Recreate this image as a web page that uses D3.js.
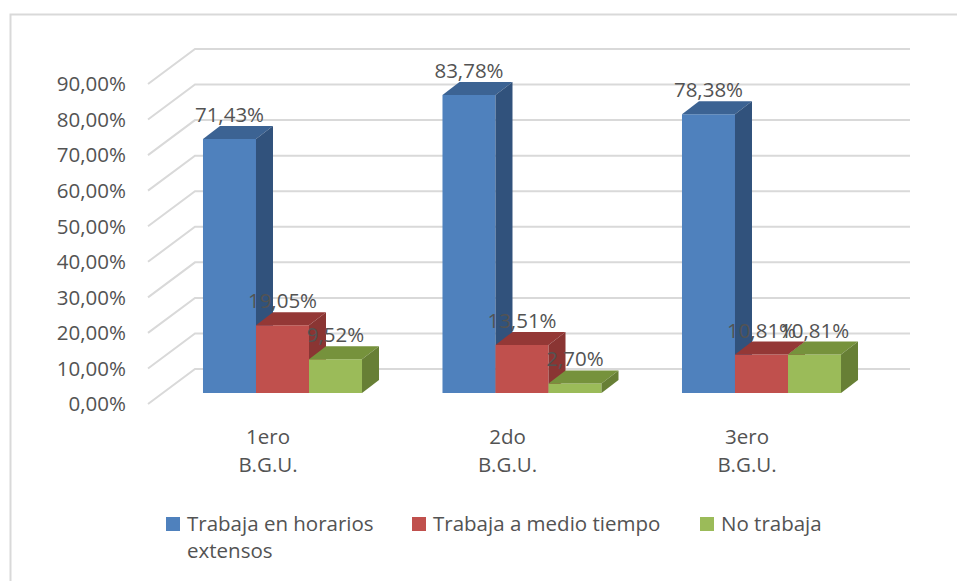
<!DOCTYPE html>
<html>
<head>
<meta charset="utf-8">
<script src="https://cdn.jsdelivr.net/npm/d3@7"></script>
<style>
  body { margin: 0; background: #fff; }
  text { font-family: "Open Sans", sans-serif; fill: #535353; }
</style>
</head>
<body>
<svg width="957" height="581"></svg>
<script>
// chart data
var categories = ["1ero B.G.U.", "2do B.G.U.", "3ero B.G.U."];
var seriesNames = ["Trabaja en horarios extensos", "Trabaja a medio tiempo", "No trabaja"];
var extensos = [71.43, 83.78, 78.38];
var medioTiempo = [19.05, 13.51, 10.81];
var noTrabaja = [9.52, 2.70, 10.81];
var yTicks = [0, 10, 20, 30, 40, 50, 60, 70, 80, 90];

var svg = d3.select("svg");
var fontSize = 20.5;

// colours: front, top, side
var colors = [
  ["#4f81bd", "#3c6393", "#31527c"],
  ["#c0504d", "#943836", "#8a3533"],
  ["#9bbb59", "#76923c", "#677f35"]
];

// 3d offsets
var wallDx = 47, wallDy = -35;
var barDx = 17, barDy = -13;

var h = d3.scaleLinear().domain([0, 90]).range([0, 320]);
var frontBase = 404;   // front edge of the walls
var barBase = 393;     // front face base of bars

var x = d3.scaleBand().domain(categories).range([162.75, 881.25])
  .paddingInner(0.336).paddingOuter(0.168);
var xs = d3.scaleBand().domain(d3.range(3)).range([0, x.bandwidth()]);

var fmt = function (v) { return d3.format(".2f")(v).replace(".", ",") + "%"; };

// chart border
svg.append("rect")
  .attr("x", 10.5).attr("y", 14.5).attr("width", 960).attr("height", 600)
  .attr("fill", "none").attr("stroke", "#d9d9d9").attr("stroke-width", 2);

// gridlines (side + back wall)
var grid = svg.append("g").attr("stroke", "#d9d9d9").attr("stroke-width", 2).attr("fill", "none");
grid.selectAll("path").data(yTicks).enter().append("path")
  .attr("d", function (d) {
    var y0 = frontBase - h(d);
    return "M148," + y0 + "L" + (148 + wallDx) + "," + (y0 + wallDy) + "L910," + (y0 + wallDy);
  });

// y tick labels
svg.append("g").selectAll("text").data(yTicks).enter().append("text")
  .attr("x", 126).attr("y", function (d) { return frontBase - h(d); })
  .attr("dy", "0.36em").attr("text-anchor", "end")
  .style("font-size", fontSize + "px")
  .text(function (d) { return d3.format(".2f")(d).replace(".", ",") + "%"; });

// bars
var rows = [];
categories.forEach(function (c, i) {
  [extensos, medioTiempo, noTrabaja].forEach(function (s, j) {
    rows.push({ cat: c, s: j, v: s[i] });
  });
});

var bars = svg.append("g").selectAll("g").data(rows).enter().append("g");

function poly(pts) { return "M" + pts.map(function (p) { return p.join(","); }).join("L") + "Z"; }

bars.each(function (d) {
  var g = d3.select(this);
  var x0 = x(d.cat) + xs(d.s), x1 = x0 + xs.bandwidth();
  var yT = barBase - h(d.v), yB = barBase;
  var c = colors[d.s];
  g.append("path").attr("fill", c[0])
    .attr("d", poly([[x0, yT], [x1, yT], [x1, yB], [x0, yB]]));
  g.append("path").attr("fill", c[1])
    .attr("d", poly([[x0, yT], [x0 + barDx, yT + barDy], [x1 + barDx, yT + barDy], [x1, yT]]));
  g.append("path").attr("fill", c[2])
    .attr("d", poly([[x1, yT], [x1 + barDx, yT + barDy], [x1 + barDx, yB + barDy], [x1, yB]]));
});

// data labels
svg.append("g").selectAll("text").data(rows).enter().append("text")
  .attr("x", function (d) { return x(d.cat) + xs(d.s) + xs.bandwidth() / 2; })
  .attr("y", function (d) { return barBase - h(d.v) - 17; })
  .attr("text-anchor", "middle")
  .style("font-size", fontSize + "px")
  .text(function (d) { return fmt(d.v); });

// category labels
var catText = svg.append("g").selectAll("text").data(categories).enter().append("text")
  .attr("text-anchor", "middle")
  .style("font-size", fontSize + "px");
catText.each(function (d) {
  var t = d3.select(this);
  var cx = x(d) + x.bandwidth() / 2 - 14.5;
  var words = d.split(" ");
  words.forEach(function (w, i) {
    t.append("tspan").attr("x", cx).attr("y", 444 + i * 28).text(w);
  });
});

// legend
var legX = [166, 412, 700];
var legMax = [215, 270, 230];
var leg = svg.append("g").selectAll("g").data(seriesNames).enter().append("g")
  .attr("transform", function (d, i) { return "translate(" + legX[i] + ",517)"; });
leg.append("rect").attr("width", 14).attr("height", 14)
  .attr("fill", function (d, i) { return colors[i][0]; });
leg.append("text").attr("x", 21).attr("y", 14)
  .style("font-size", fontSize + "px")
  .each(function (d, i) {
    // wrap long names
    var t = d3.select(this), words = d.split(" "), line = [], n = 0;
    var ts = t.append("tspan").attr("x", 21).attr("y", 14);
    words.forEach(function (w) {
      line.push(w);
      ts.text(line.join(" "));
      if (ts.node().getComputedTextLength() > legMax[i] && line.length > 1) {
        line.pop();
        ts.text(line.join(" "));
        line = [w];
        n++;
        ts = t.append("tspan").attr("x", 21).attr("y", 14 + n * 27).text(w);
      }
    });
  });
</script>
</body>
</html>
